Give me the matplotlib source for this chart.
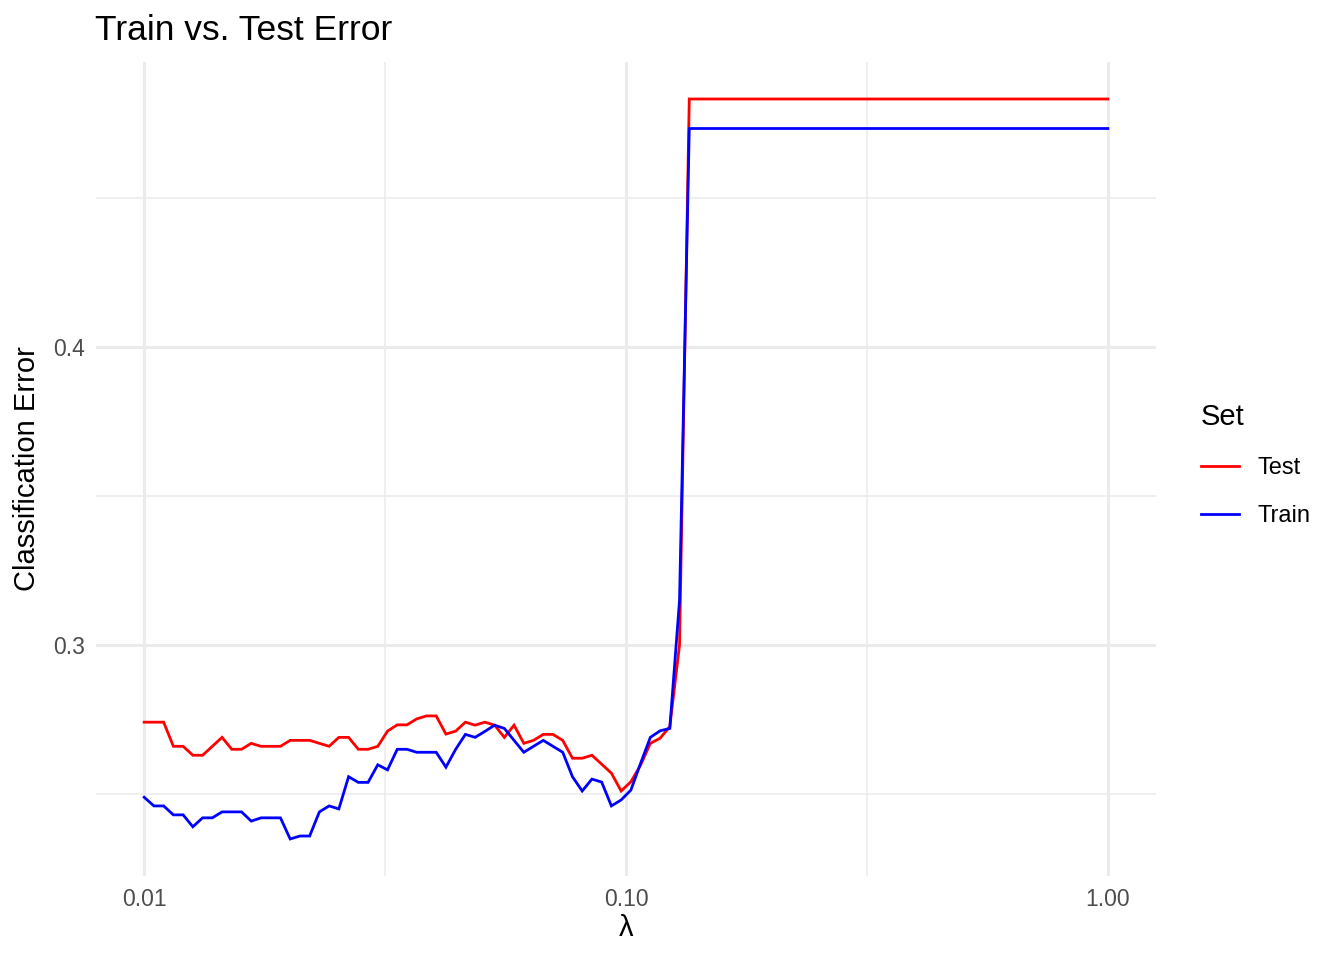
import numpy as np
import matplotlib
matplotlib.use("Agg")
import matplotlib.pyplot as plt
from matplotlib.ticker import FixedLocator, NullFormatter

plt.rcParams['font.family'] = ['Liberation Sans', 'DejaVu Sans']

# lambda grid (100 values, log-spaced 0.01 .. 1)
lam = np.logspace(-2, 0, 100)

test_err = [
    0.2741, 0.2741, 0.2741, 0.2660, 0.2660, 0.2630, 0.2630, 0.2660, 0.2690, 0.2650,
    0.2650, 0.2670, 0.2660, 0.2660, 0.2660, 0.2680, 0.2680, 0.2680, 0.2670, 0.2660,
    0.2690, 0.2690, 0.2650, 0.2650, 0.2660, 0.2711, 0.2732, 0.2732, 0.2752, 0.2762,
    0.2762, 0.2701, 0.2711, 0.2741, 0.2731, 0.2741, 0.2731, 0.2690, 0.2731, 0.2670,
    0.2680, 0.2700, 0.2700, 0.2680, 0.2620, 0.2620, 0.2630, 0.2600, 0.2570, 0.2510,
    0.2541, 0.2597, 0.2670, 0.2687, 0.2726, 0.3000, 0.4832, 0.4832, 0.4832, 0.4832,
    0.4832, 0.4832, 0.4832, 0.4832, 0.4832, 0.4832, 0.4832, 0.4832, 0.4832, 0.4832,
    0.4832, 0.4832, 0.4832, 0.4832, 0.4832, 0.4832, 0.4832, 0.4832, 0.4832, 0.4832,
    0.4832, 0.4832, 0.4832, 0.4832, 0.4832, 0.4832, 0.4832, 0.4832, 0.4832, 0.4832,
    0.4832, 0.4832, 0.4832, 0.4832, 0.4832, 0.4832, 0.4832, 0.4832, 0.4832, 0.4832,
]

train_err = [
    0.2489, 0.2460, 0.2460, 0.2430, 0.2430, 0.2390, 0.2420, 0.2420, 0.2440, 0.2440,
    0.2440, 0.2409, 0.2420, 0.2420, 0.2420, 0.2349, 0.2359, 0.2359, 0.2440, 0.2460,
    0.2450, 0.2558, 0.2539, 0.2539, 0.2598, 0.2581, 0.2650, 0.2650, 0.2640, 0.2640,
    0.2640, 0.2590, 0.2650, 0.2700, 0.2690, 0.2710, 0.2731, 0.2720, 0.2680, 0.2640,
    0.2660, 0.2680, 0.2660, 0.2640, 0.2558, 0.2510, 0.2550, 0.2540, 0.2460, 0.2480,
    0.2513, 0.2603, 0.2690, 0.2712, 0.2720, 0.3150, 0.4733, 0.4733, 0.4733, 0.4733,
    0.4733, 0.4733, 0.4733, 0.4733, 0.4733, 0.4733, 0.4733, 0.4733, 0.4733, 0.4733,
    0.4733, 0.4733, 0.4733, 0.4733, 0.4733, 0.4733, 0.4733, 0.4733, 0.4733, 0.4733,
    0.4733, 0.4733, 0.4733, 0.4733, 0.4733, 0.4733, 0.4733, 0.4733, 0.4733, 0.4733,
    0.4733, 0.4733, 0.4733, 0.4733, 0.4733, 0.4733, 0.4733, 0.4733, 0.4733, 0.4733,
]

series_names = ['Test', 'Train']
series_colors = ['#FF0000', '#0000FF']

x_ticks = [0.01, 0.1, 1.0]
x_ticklabels = ['0.01', '0.10', '1.00']
y_ticks = [0.3, 0.4]
y_ticklabels = ['0.3', '0.4']

fig = plt.figure(figsize=(13.44, 9.6), dpi=100)
ax = fig.add_axes([96 / 1344, 1 - 876 / 960, (1156 - 96) / 1344, (876 - 62) / 960])

for name, vals, col in zip(series_names, [test_err, train_err], series_colors):
    ax.plot(lam, vals, color=col, lw=2.0, label=name, solid_joinstyle='miter')

ax.set_xscale('log')
lo = np.log10(0.01) - 0.1
hi = np.log10(1.0) + 0.1
ax.set_xlim(10 ** lo, 10 ** hi)
ymin = min(min(test_err), min(train_err))
ymax = max(max(test_err), max(train_err))
pad = 0.05 * (ymax - ymin)
ax.set_ylim(ymin - pad, ymax + pad)

ax.xaxis.set_major_locator(FixedLocator(x_ticks))
ax.set_xticklabels(x_ticklabels)
ax.xaxis.set_minor_locator(FixedLocator([10 ** -1.5, 10 ** -0.5]))
ax.xaxis.set_minor_formatter(NullFormatter())
ax.yaxis.set_major_locator(FixedLocator(y_ticks))
ax.set_yticklabels(y_ticklabels)
ax.yaxis.set_minor_locator(FixedLocator([0.25, 0.35, 0.45]))

ax.grid(which='major', color='#EBEBEB', lw=2.2)
ax.grid(which='minor', color='#EBEBEB', lw=1.1)
ax.set_axisbelow(True)
for s in ax.spines.values():
    s.set_visible(False)
ax.tick_params(which='both', length=0, labelsize=16.5, labelcolor='#4D4D4D')
ax.tick_params(axis='x', pad=9)
ax.tick_params(axis='y', pad=8)

ax.set_xlabel('λ', fontsize=21, labelpad=2)
ax.set_ylabel('Classification Error', fontsize=21, labelpad=9)
fig.text(95 / 1344, 1 - 40 / 960, 'Train vs. Test Error', fontsize=25.5, ha='left', va='baseline')

leg = ax.legend(loc='center left', bbox_to_anchor=(1.0425, 0.505), frameon=False,
                title='Set', fontsize=17, title_fontsize=21,
                handlelength=1.6, handletextpad=0.8, labelspacing=1.1,
                borderpad=0, borderaxespad=0)
leg._legend_box.align = 'left'

fig.savefig('out.png', dpi=100)
